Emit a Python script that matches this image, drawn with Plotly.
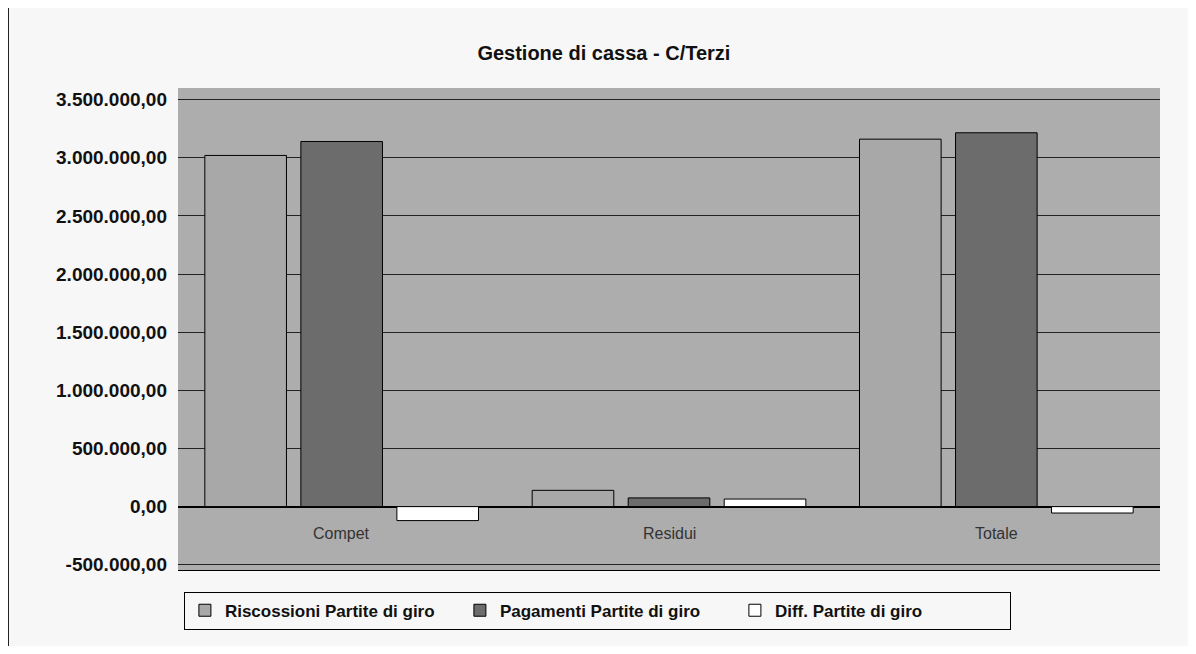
import plotly.graph_objects as go

categories = ["Compet", "Residui", "Totale"]
riscossioni = [3020000, 140000, 3160000]
pagamenti = [3140000, 75000, 3215000]
differenza = [-120000, 65000, -55000]
series_names = ["Riscossioni Partite di giro", "Pagamenti Partite di giro", "Diff. Partite di giro"]
tick_values = [-500000, 0, 500000, 1000000, 1500000, 2000000, 2500000, 3000000, 3500000]
tick_labels = ["-500.000,00", "0,00", "500.000,00", "1.000.000,00", "1.500.000,00",
               "2.000.000,00", "2.500.000,00", "3.000.000,00", "3.500.000,00"]

colors = ["#a8a8a8", "#6c6c6c", "#ffffff"]
font_family = "Liberation Sans, Arial, sans-serif"

fig = go.Figure()
for name, vals, col in zip(series_names, [riscossioni, pagamenti, differenza], colors):
    fig.add_trace(go.Bar(
        x=categories, y=vals, name=name,
        marker=dict(color=col, line=dict(color="black", width=1)),
    ))

for c in categories:
    fig.add_annotation(x=c, y=-230000, xref="x", yref="y", text=c, showarrow=False,
                       font=dict(family=font_family, size=16, color="#333"))

fig.update_layout(
    width=1180, height=638,
    separators=",.",
    title=dict(text="<b>Gestione di cassa - C/Terzi</b>", x=0.505, xanchor="center", y=0.93, yanchor="middle",
               font=dict(family=font_family, size=20, color="#111")),
    margin=dict(l=170, r=28, t=80, b=76),
    paper_bgcolor="#f7f7f7",
    plot_bgcolor="#adadad",
    barmode="group",
    bargap=0.12,
    bargroupgap=0.15,
    font=dict(family=font_family, size=15, color="#111"),
    xaxis=dict(showticklabels=False, showgrid=False, ticks="", showline=True, linecolor="black", mirror=False),
    yaxis=dict(range=[-545000, 3600000], tickvals=tick_values, ticktext=tick_labels,
               showgrid=True, gridcolor="#222", gridwidth=1,
               zeroline=True, zerolinecolor="black", zerolinewidth=1.5,
               showline=False, ticks="", ticklabelstandoff=10,
               tickfont=dict(family=font_family, size=19, color="#111", weight="bold")),
    legend=dict(orientation="h", x=0.006, y=-0.045, xanchor="left", yanchor="top",
                bordercolor="black", borderwidth=1, bgcolor="#f7f7f7",
                font=dict(family=font_family, size=17, color="#111", weight="bold"),
                itemwidth=30, entrywidth=230, traceorder="normal"),
    shapes=[
        dict(type="line", xref="paper", yref="paper", x0=-0.173, x1=-0.173, y0=1.17, y1=-0.16,
             line=dict(color="black", width=1.5)),
        dict(type="line", xref="paper", yref="paper", x0=-0.173, x1=1.03, y0=1.17, y1=1.17,
             line=dict(color="#666", width=1)),
    ],
)

fig.write_html("out.html")
